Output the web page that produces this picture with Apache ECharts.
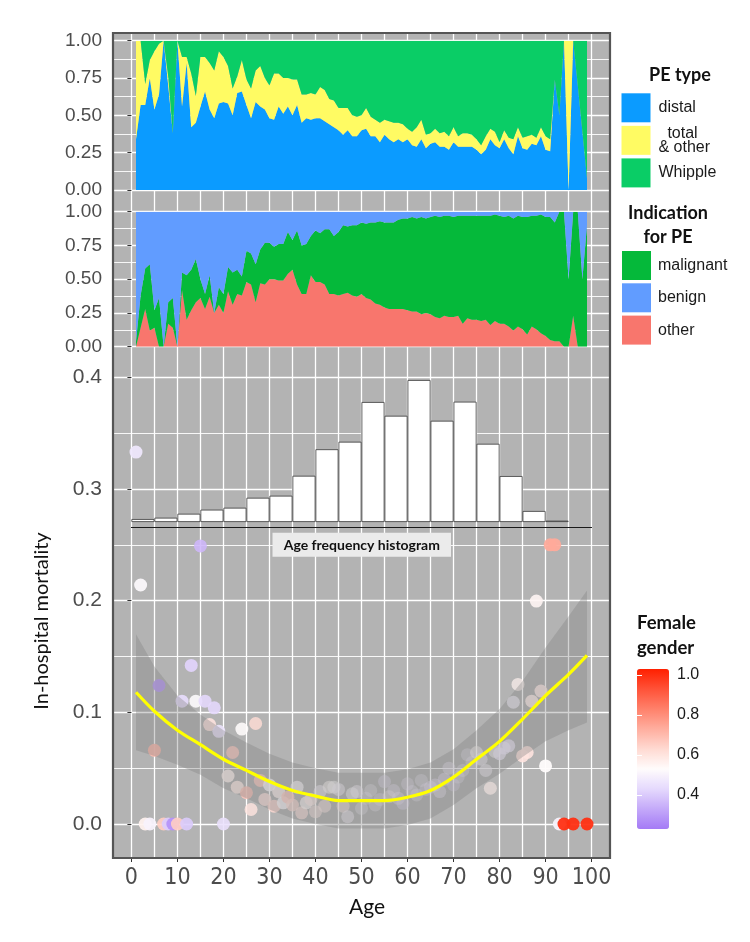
<!DOCTYPE html>
<html><head><meta charset="utf-8">
<script src="https://cdn.jsdelivr.net/npm/echarts@6/dist/echarts.min.js"></script>
<style>html,body{margin:0;padding:0;background:#fff}#c{width:750px;height:942px}</style>
</head><body><div id="c"></div>
<script>
// ---------- DATA ----------
// Ages 1..99 (categories of the two share panels)
const ages = ['1','2','3','4','5','6','7','8','9','10','11','12','13','14','15','16','17','18','19','20','21','22','23','24','25','26','27','28','29','30','31','32','33','34','35','36','37','38','39','40','41','42','43','44','45','46','47','48','49','50','51','52','53','54','55','56','57','58','59','60','61','62','63','64','65','66','67','68','69','70','71','72','73','74','75','76','77','78','79','80','81','82','83','84','85','86','87','88','89','90','91','92','93','94','95','96','97','98','99'];

// PE type shares by age (top panel)
const peDistal = [.34,.57,.57,.75,.54,.64,1,.70,.38,1,
.56,.85,.42,.45,.56,.66,.54,.48,.58,.59,
.58,.50,.65,.66,.57,.48,.59,.56,.54,.48,
.47,.56,.51,.56,.50,.57,.45,.48,.47,.48,
.48,.46,.44,.42,.40,.37,.40,.36,.36,.40,
.41,.36,.36,.32,.37,.34,.32,.34,.32,.34,
.30,.29,.34,.28,.31,.32,.29,.29,.27,.32,
.29,.29,.29,.29,.27,.24,.27,.34,.30,.28,
.34,.28,.24,.36,.28,.27,.31,.30,.36,.27,
.26,.74,.50,1,0,1,.70,.39,.08];
const peTotal = [.66,.43,.14,.12,.39,.34,0,.06,0,0,
.33,.04,.36,.18,.33,.23,.31,.32,.35,.30,
.25,.18,.11,.21,.17,.20,.21,.27,.21,.22,
.31,.22,.24,.19,.24,.17,.19,.16,.18,.16,
.21,.21,.17,.18,.15,.18,.15,.14,.13,.10,
.14,.13,.11,.13,.10,.12,.13,.11,.12,.07,
.09,.13,.13,.09,.07,.09,.09,.10,.09,.10,
.07,.09,.09,.08,.07,.06,.09,.07,.09,.04,
.06,.07,.10,.06,.07,.09,.06,.05,.06,.09,
.08,0,0,0,1,0,0,0,0];
const peWhipple = [0,0,.29,.13,.07,.02,0,.24,.62,0,
.11,.11,.22,.37,.11,.11,.15,.20,.07,.11,
.17,.32,.24,.13,.26,.32,.20,.17,.25,.30,
.22,.22,.25,.25,.26,.26,.36,.36,.35,.36,
.31,.33,.39,.40,.45,.45,.45,.50,.51,.50,
.45,.51,.53,.55,.53,.54,.55,.55,.56,.59,
.61,.58,.53,.63,.62,.59,.62,.61,.64,.58,
.64,.62,.62,.63,.66,.70,.64,.59,.61,.68,
.60,.65,.66,.58,.65,.64,.63,.65,.58,.64,
.66,.26,.50,0,0,0,.30,.61,.92];

// Indication shares by age (middle panel)
const indOther = [0,.14,.28,.12,.14,0,0,.17,.14,0,
.42,.20,.27,.33,.36,.28,.37,.25,.31,.25,
.41,.31,.39,.38,.48,.46,.33,.47,.46,.50,
.50,.49,.49,.54,.57,.46,.39,.39,.53,.48,
.48,.46,.39,.39,.38,.39,.40,.38,.37,.39,
.36,.35,.32,.31,.29,.28,.28,.28,.28,.27,
.26,.26,.24,.25,.24,.22,.21,.23,.22,.22,
.23,.17,.21,.20,.20,.19,.20,.16,.19,.17,
.17,.15,.12,.15,.13,.09,.15,.13,.10,.08,
.05,.04,.04,0,0,.23,0,0,0];
const indMalignant = [.04,.24,.30,.49,.13,.36,0,.16,.22,0,
.13,.33,.30,.32,.14,.11,.16,0,.13,.14,
.18,.24,.18,.14,.23,.23,.28,.25,.31,.27,
.24,.27,.27,.31,.22,.40,.36,.37,.29,.38,
.36,.41,.48,.43,.47,.51,.49,.52,.53,.53,
.55,.57,.60,.62,.63,.64,.64,.66,.67,.68,
.70,.69,.72,.70,.72,.75,.75,.74,.75,.74,
.74,.80,.76,.77,.77,.78,.77,.81,.79,.80,
.79,.82,.83,.82,.83,.87,.82,.84,.88,.88,
.91,.88,.96,1,.50,.77,1,.50,.90];
const indBenign = [.96,.62,.42,.39,.73,.64,1,.67,.64,1,
.45,.47,.43,.35,.50,.61,.47,.75,.56,.61,
.41,.45,.43,.48,.29,.31,.39,.28,.23,.23,
.26,.24,.24,.15,.21,.14,.25,.24,.18,.14,
.16,.13,.13,.18,.15,.10,.11,.10,.10,.08,
.09,.08,.08,.07,.08,.08,.08,.06,.05,.05,
.04,.05,.04,.05,.04,.03,.04,.03,.03,.04,
.03,.03,.03,.03,.03,.03,.03,.03,.02,.03,
.04,.03,.05,.03,.04,.04,.03,.03,.02,.04,
.04,.08,0,0,.50,0,0,.50,.10];

// Age frequency histogram (5-year bins, % of cases)
const histBinStart = [0,5,10,15,20,25,30,35,40,45,50,55,60,65,70,75,80,85,90];
const histFreq = [0.29,0.42,0.81,1.21,1.40,2.38,2.58,4.54,7.14,7.88,11.78,10.43,13.94,9.94,11.81,7.68,4.51,1.08,0.13];

// In-hospital mortality per age, with female share
const ptAge = [1,2,3,4,5,6,7,8,9,10,11,12,13,14,15,16,17,18,19,20,21,22,23,24,25,26,27,28,29,30,31,32,33,34,35,36,37,38,39,40,41,42,43,44,45,46,47,48,49,50,51,52,53,54,55,56,57,58,59,60,61,62,63,64,65,66,67,68,69,70,71,72,73,74,75,76,77,78,79,80,81,82,83,84,85,86,87,88,89,90,91,92,93,94,96,99];
const ptMort = [.333,.214,0,0,.066,.124,0,0,0,0,
.110,0,.142,.110,.249,.110,.089,.104,.083,0,
.043,.064,.033,.085,.028,.013,.090,.039,.022,.035,
.016,.029,.019,.024,.017,.033,.010,.019,.022,.011,
.029,.016,.033,.033,.031,.016,.0065,.027,.029,.014,
.023,.030,.017,.022,.038,.0245,.030,.023,.0185,.036,
.029,.026,.039,.031,.033,.035,.029,.040,.050,.035,
.042,.048,.062,.055,.064,.058,.048,.032,.065,.063,
.068,.070,.109,.125,.061,.064,.110,.1996,.119,.052,
.25,.25,0,0,0,0];
const ptFemale = [.47,.52,.56,.50,.70,.30,.66,.40,.28,.66,
.44,.40,.42,.52,.36,.43,.60,.43,.46,.45,
.56,.66,.58,.53,.68,.60,.62,.66,.60,.52,
.63,.56,.52,.66,.62,.52,.60,.54,.58,.58,
.50,.58,.54,.52,.50,.58,.50,.52,.50,.50,
.48,.50,.50,.47,.46,.55,.48,.48,.45,.47,
.48,.48,.48,.47,.47,.47,.48,.47,.48,.44,
.48,.48,.48,.50,.54,.50,.50,.57,.53,.48,
.48,.48,.50,.56,.60,.60,.57,.55,.58,.53,
.74,.74,.50,1,1,1];

// Fitted curve and its confidence band
const fitAges = [1,5,10,15,20,25,30,35,40,45,50,55,60,65,70,75,80,85,90,95,99];
const fitMort = [.118,.101,.084,.071,.058,.048,.038,.030,.025,.021,.021,.021,.024,.030,.042,.058,.074,.094,.115,.134,.151];
const fitLow  = [.066,.061,.053,.044,.032,.023,.013,.005,.000,-.004,-.004,-.004,-.001,.005,.017,.032,.045,.060,.074,.084,.091];
const fitHigh = [.170,.141,.115,.098,.084,.073,.063,.055,.050,.046,.046,.046,.049,.055,.067,.084,.103,.128,.158,.186,.209];

const colorTicks = [0.4,0.6,0.8,1.0];

// ---------- CHART ----------
const chart = echarts.init(document.getElementById('c'), null, {renderer:'canvas'});
const PL = 113, PW = 497, PT = 33, PH = 825;          // panel box
const PX = PW/108;                                     // px per year (axis -4..104)
const X0 = PL + 4*PX, XW = 100*PX;                     // age 0..100 span
const BG = '#b3b3b3';
const numFont = 'Liberation Sans, Arial, sans-serif';
const titleFont = 'Lato, "Open Sans", sans-serif';

const zip = (a,b) => a.map((v,i)=>[v,b[i]]);
const binOf = a => Math.min(Math.floor(a/5), histFreq.length-1);

function areaSeries(name, xi, yi, stack, vals, color){
  return {name, type:'line', xAxisIndex:xi, yAxisIndex:yi, stack, data:vals,
    symbol:'none', showSymbol:false, lineStyle:{width:0, color}, itemStyle:{color},
    areaStyle:{color, opacity:1}, emphasis:{disabled:true}, silent:true, z:2};
}
const hidden = (gi, extra) => Object.assign({type:'value', gridIndex:gi, show:false, min:0, max:1}, extra||{});
const catAxis = gi => ({type:'category', gridIndex:gi, data:ages, boundaryGap:false, show:false});
const yPanel = (gi, max, interval, dec, fs, margin) => ({type:'value', gridIndex:gi, min:0, max, interval,
  axisLine:{show:false}, axisTick:{show:true, length:4, lineStyle:{color:'#333', width:1}},
  axisLabel:{margin, fontSize:fs, color:'#4d4d4d', fontFamily:numFont, formatter:v=>v.toFixed(dec)},
  splitLine:{show:true, lineStyle:{color:'#fff', width:1.3}},
  minorTick:{show:false, splitNumber:2}, minorSplitLine:{show:true, lineStyle:{color:'#fff', width:0.9}}});

const scatterData = ptAge.map((a,i)=>({value:[a, ptMort[i], ptFemale[i]],
  itemStyle:{opacity: Math.max(0.32, 0.95 - 0.055*histFreq[binOf(a)])}}));

const TOP = {top:40.7, height:149.3}, MID = {top:211.7, height:135};
const DATA_L = X0 + PX, DATA_W = 98*PX;               // ages 1..99
const option = {
  animation:false,
  grid:[
    {left:PL, top:PT, width:PW, height:PH, show:true, backgroundColor:BG, borderWidth:0},       //0 bg
    {left:X0, top:PT, width:XW, height:PH},                                                       //1 v-lines + x labels
    Object.assign({left:PL, width:PW}, TOP),                                                      //2 PE type gridlines
    Object.assign({left:PL, width:PW}, MID),                                                      //3 indication gridlines
    {left:PL, top:377.3, width:PW, height:446.7},                                                 //4 mortality
    {left:X0, top:522-142.6, width:XW, height:142.6},                                             //5 histogram
    {left:637, top:635, width:32, height:200},                                                    //6 colourbar labels
    Object.assign({left:DATA_L, width:DATA_W}, TOP),                                              //7 PE type data
    Object.assign({left:DATA_L, width:DATA_W}, MID)                                               //8 indication data
  ],
  xAxis:[
    hidden(0),                                                                                    //0
    {type:'value', gridIndex:1, min:0, max:100, interval:5, position:'top', axisLine:{show:false}, axisTick:{show:false}, axisLabel:{show:false},
      splitLine:{show:true, lineStyle:{color:'#fff', width:1.3}}},                                //1
    {type:'value', gridIndex:1, min:0, max:100, interval:10, position:'bottom', axisLine:{show:false},
      axisTick:{show:true, length:4, lineStyle:{color:'#333'}}, splitLine:{show:false},
      axisLabel:{margin:9, fontSize:23, color:'#4d4d4d', fontFamily:'"Liberation Sans Narrow", "DejaVu Sans Condensed", sans-serif'}}, //2
    hidden(2,{min:-4,max:104}),                                                                   //3
    hidden(3,{min:-4,max:104}),                                                                   //4
    hidden(4,{min:-4,max:104}),                                                                   //5
    {type:'value', gridIndex:5, min:0, max:100, offset:5.3, axisLine:{show:true, onZero:false, lineStyle:{color:'#1a1a1a', width:1}},
      axisTick:{show:false}, axisLabel:{show:false}, splitLine:{show:false}},                     //6
    hidden(6),                                                                                    //7
    catAxis(7),                                                                                   //8
    catAxis(8)                                                                                    //9
  ],
  yAxis:[
    hidden(0),                       //0
    hidden(1),                       //1
    yPanel(2, 1, 0.25, 2, 19, 11),   //2
    yPanel(3, 1, 0.25, 2, 19, 11),   //3
    yPanel(4, 0.4, 0.1, 1, 21, 11),  //4
    hidden(5,{min:0,max:14}),        //5
    {type:'value', gridIndex:6, position:'right', min:0.2, max:1.2, interval:0.2, z:10,
      axisLine:{show:false}, axisTick:{show:true, inside:true, length:5, lineStyle:{color:'#fff', width:1}},
      axisLabel:{margin:8, fontSize:16, color:'#1a1a1a', fontFamily:numFont,
        formatter:v=> colorTicks.some(t=>Math.abs(t-v)<1e-6) ? v.toFixed(1) : ''}, splitLine:{show:false}},   //6
    {type:'value', gridIndex:6, position:'left', min:0.2, max:1.2, interval:0.2, z:10,
      axisLine:{show:false}, axisTick:{show:true, inside:true, length:5, lineStyle:{color:'#fff', width:1}},
      axisLabel:{show:false}, splitLine:{show:false}},   //7
    hidden(7),                       //8
    hidden(8)                        //9
  ],
  visualMap:{type:'continuous', min:0.23, max:1.03, dimension:2, seriesIndex:9, calculable:false, hoverLink:false,
    left:637, top:669, padding:0, itemWidth:32, itemHeight:160, showLabel:false,
    inRange:{color:['#a47af6','#c4a9f9','#e5d9fd','#fffcfc','#ffdad2','#ffae9f','#ff816b','#ff5238','#ff2000']}},
  legend:[
    {data:['distal','total & other','Whipple'], left:621.5, top:93.3, padding:0, orient:'vertical', icon:'rect',
      itemWidth:29, itemHeight:29, itemGap:3.3, selectedMode:false,
      textStyle:{fontSize:16, color:'#1a1a1a', fontFamily:numFont, lineHeight:13.5, padding:[0,0,0,3]},
      formatter:n=> n==='total & other' ? '  total\n& other' : n},
    {data:['malignant','benign','other'], left:622, top:251, padding:0, orient:'vertical', icon:'rect',
      itemWidth:29, itemHeight:29, itemGap:3.3, selectedMode:false,
      textStyle:{fontSize:16, color:'#1a1a1a', fontFamily:numFont, padding:[0,0,0,2]}}
  ],
  series:[
    areaSeries('distal', 8, 8, 'pe', peDistal, '#0b9bff'),            //0
    areaSeries('total & other', 8, 8, 'pe', peTotal, '#fffb63'),      //1
    areaSeries('Whipple', 8, 8, 'pe', peWhipple, '#0acd66'),          //2
    areaSeries('other', 9, 9, 'ind', indOther, '#f8766d'),            //3
    areaSeries('malignant', 9, 9, 'ind', indMalignant, '#05b93a'),    //4
    areaSeries('benign', 9, 9, 'ind', indBenign, '#619cff'),          //5
    {type:'bar', xAxisIndex:6, yAxisIndex:5, data:histBinStart.map((b,i)=>[b+2.5, histFreq[i]]),
      barWidth:XW/20, itemStyle:{color:'#ffffff', borderColor:'#3a3a3a', borderWidth:0.8}, silent:true, z:2},   //6
    {type:'custom', xAxisIndex:5, yAxisIndex:4, data:[0], silent:true, z:4,
      renderItem:(p, api)=>{
        const pts = fitAges.map((a,i)=>api.coord([a, fitHigh[i]]));
        for (let i=fitAges.length-1;i>=0;i--) pts.push(api.coord([fitAges[i], fitLow[i]]));
        return {type:'polygon', shape:{points:pts}, style:{fill:'rgba(128,128,128,0.35)'}};
      }},   //7
    {type:'line', xAxisIndex:5, yAxisIndex:4, data:zip(fitAges, fitMort), smooth:0.3, symbol:'none',
      lineStyle:{color:'#ffff00', width:3.2}, silent:true, z:5},   //8
    {type:'scatter', xAxisIndex:5, yAxisIndex:4, data:scatterData, symbolSize:13, silent:true, z:3}   //9
  ],
  graphic:{elements:[
    {type:'rect', z:100, silent:true, shape:{x:PL, y:PT, width:PW, height:PH}, style:{fill:'none', stroke:'#555', lineWidth:2.2}},
    {type:'rect', z:20, silent:true, shape:{x:272.5, y:532.7, width:178.5, height:24}, style:{fill:'#ebebeb'}},
    {type:'text', z:21, silent:true, x:361.8, y:545, style:{text:'Age frequency histogram', font:'bold 14px '+titleFont, fill:'#111', align:'center', verticalAlign:'middle'}},
    {type:'text', silent:true, x:680, y:75, style:{text:'PE type', font:'bold 18px '+titleFont, fill:'#111', align:'center', verticalAlign:'middle'}},
    {type:'text', silent:true, x:668, y:213, style:{text:'Indication', font:'bold 18px '+titleFont, fill:'#111', align:'center', verticalAlign:'middle'}},
    {type:'text', silent:true, x:668, y:237, style:{text:'for PE', font:'bold 18px '+titleFont, fill:'#111', align:'center', verticalAlign:'middle'}},
    {type:'text', silent:true, x:637, y:623, style:{text:'Female', font:'bold 18.5px '+titleFont, fill:'#111', align:'left', verticalAlign:'middle'}},
    {type:'text', silent:true, x:637, y:648, style:{text:'gender', font:'bold 18.5px '+titleFont, fill:'#111', align:'left', verticalAlign:'middle'}},
    {type:'text', silent:true, x:367, y:907, style:{text:'Age', font:'21px '+titleFont, fill:'#111', align:'center', verticalAlign:'middle'}},
    {type:'text', silent:true, x:42, y:621, rotation:Math.PI/2, style:{text:'In-hospital mortality', font:'20px '+titleFont, fill:'#111', align:'center', verticalAlign:'middle'}}
  ]}
};
chart.setOption(option);
</script></body></html>
